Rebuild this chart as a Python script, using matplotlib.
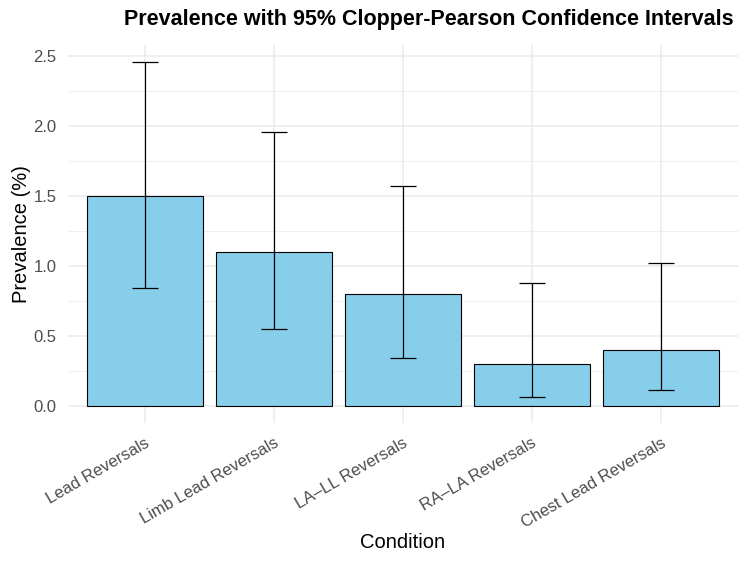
import matplotlib.pyplot as plt
import numpy as np

conditions = ['Lead Reversals', 'Limb Lead Reversals', 'LA\u2013LL Reversals',
              'RA\u2013LA Reversals', 'Chest Lead Reversals']
prevalence = [1.5, 1.1, 0.8, 0.3, 0.4]
ci_lower = [0.84, 0.55, 0.345, 0.06, 0.11]
ci_upper = [2.46, 1.96, 1.57, 0.875, 1.02]

plt.rcParams['font.family'] = ['Liberation Sans', 'DejaVu Sans']

fig = plt.figure(figsize=(7.5, 5.63), dpi=100)
ax = fig.add_axes([0.090, 0.2487, 0.894, 0.672])

x = np.arange(1, len(conditions) + 1)
ax.bar(x, prevalence, width=0.9, color='#87CEEB', edgecolor='black', linewidth=0.8, zorder=2)
prev = np.array(prevalence)
yerr = [prev - np.array(ci_lower), np.array(ci_upper) - prev]
ax.errorbar(x, prevalence, yerr=yerr, fmt='none', ecolor='black', elinewidth=0.9,
            capsize=9.4, capthick=0.9, zorder=3)

ax.set_xlim(0.4, 5.6)
ax.set_ylim(-0.123, 2.583)
ax.set_xticks(x)
ax.set_xticklabels(conditions, rotation=30, ha='right', rotation_mode='anchor')
ax.set_yticks([0, 0.5, 1.0, 1.5, 2.0, 2.5])
ax.set_yticks(np.arange(0.25, 2.6, 0.5), minor=True)
ax.set_yticklabels(['0.0', '0.5', '1.0', '1.5', '2.0', '2.5'])

ax.grid(True, which='major', color='#EBEBEB', linewidth=1.1, zorder=0)
ax.grid(True, which='minor', axis='y', color='#EBEBEB', linewidth=0.55, zorder=0)
ax.set_axisbelow(True)
for s in ax.spines.values():
    s.set_visible(False)
ax.tick_params(which='both', length=0)
ax.tick_params(axis='both', labelsize=12, labelcolor='#4D4D4D')
ax.tick_params(axis='x', pad=9)
ax.tick_params(axis='y', pad=8)

ax.set_xlabel('Condition', fontsize=14.5, labelpad=1.5)
ax.set_ylabel('Prevalence (%)', fontsize=14.5, labelpad=1.5)
fig.text(429 / 750, 1 - 20 / 563, 'Prevalence with 95% Clopper-Pearson Confidence Intervals',
         fontsize=15.5, fontweight='bold', ha='center', va='center')

fig.savefig('out.png', dpi=100)
